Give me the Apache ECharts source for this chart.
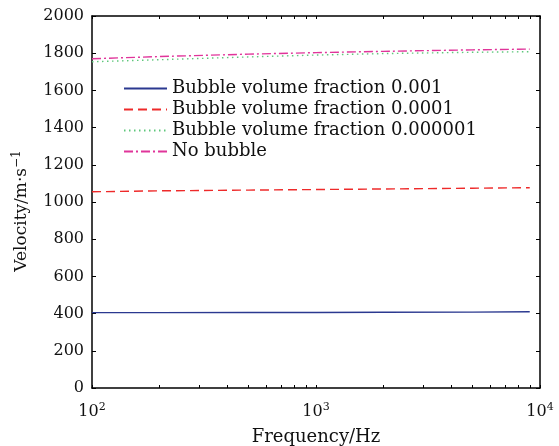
<!DOCTYPE html>
<html><head><meta charset="utf-8">
<script src="https://cdn.jsdelivr.net/npm/echarts@6/dist/echarts.min.js"></script>
<style>html,body{margin:0;padding:0;background:#fff}#c{width:559px;height:446px}</style>
</head><body><div id="c"></div>
<script>
const frequencies = [100, 200, 500, 1000, 2000, 5000, 9000];
const fraction001 = [405, 405, 406, 406, 407, 408, 410];
const fraction0001 = [1055, 1060, 1064, 1067, 1070, 1074, 1077];
const fraction000001 = [1754, 1765, 1780, 1790, 1798, 1805, 1808];
const noBubble = [1770, 1782, 1795, 1803, 1810, 1818, 1822];
const seriesNames = ['Bubble volume fraction 0.001', 'Bubble volume fraction 0.0001', 'Bubble volume fraction 0.000001', 'No bubble'];
const xTickExponents = [2, 3, 4];
const yTicks = [0, 200, 400, 600, 800, 1000, 1200, 1400, 1600, 1800, 2000];

const FONT = 'DejaVu Serif';
const pairs = arr => frequencies.map((f, i) => [f, arr[i]]);
const logTicks = [];
for (let d = 2; d < 4; d++) for (let m = 1; m <= 9; m++) logTicks.push(+(d + Math.log10(m)).toFixed(6));
logTicks.push(4);

const AX = { show: true, lineStyle: { color: '#000', width: 1.5 } };
const tickAxis = (pos) => ({
  type: 'value', min: 2, max: 4, position: pos,
  axisLine: AX, axisLabel: { show: false }, splitLine: { show: false },
  axisTick: { show: true, inside: true, length: 3, customValues: logTicks, lineStyle: { color: '#000', width: 1 } }
});
const supStyle = { fontFamily: FONT, fontSize: 12, color: '#111', verticalAlign: 'top', padding: [0, 0, 9, 0] };

const chart = echarts.init(document.getElementById('c'));
chart.setOption({
  animation: false,
  grid: { left: 92, right: 19, top: 16, bottom: 58, outerBoundsMode: 'none', containLabel: false },
  legend: {
    orient: 'vertical', left: 123, top: 78, padding: 0, itemWidth: 43, itemHeight: 10, itemGap: 0,
    textStyle: { fontFamily: FONT, fontSize: 18, color: '#111', lineHeight: 21 },
    itemStyle: { opacity: 0 },
    data: seriesNames
  },
  xAxis: [
    {
      type: 'log', logBase: 10, min: 100, max: 10000, position: 'bottom',
      axisLine: { show: false }, axisTick: { show: false }, splitLine: { show: false },
      name: 'Frequency/Hz', nameLocation: 'middle', nameGap: 40,
      nameTextStyle: { fontFamily: FONT, fontSize: 18, color: '#111' },
      axisLabel: {
        margin: 14, fontFamily: FONT, fontSize: 16, color: '#111',
        formatter: v => '10{sup|' + Math.round(Math.log10(v)) + '}',
        rich: { sup: { fontFamily: FONT, fontSize: 11, color: '#111', verticalAlign: 'top', padding: [0, 0, 8, 0] } }
      }
    },
    tickAxis('bottom'),
    tickAxis('top')
  ],
  yAxis: [
    {
      type: 'value', min: 0, max: 2000, interval: 200, position: 'left',
      axisLine: AX, splitLine: { show: false },
      axisTick: { show: true, inside: true, length: 4, lineStyle: { color: '#000' } },
      axisLabel: { fontFamily: FONT, fontSize: 16, color: '#111', margin: 8, formatter: v => String(v) },
      name: 'Velocity/m·s{sup|−1}', nameLocation: 'middle', nameGap: 60,
      nameTextStyle: { fontFamily: FONT, fontSize: 17, color: '#111', padding: [0, 18, 0, 0],
        rich: { sup: supStyle } }
    },
    {
      type: 'value', min: 0, max: 2000, interval: 200, position: 'right',
      axisLine: AX, splitLine: { show: false }, axisLabel: { show: false },
      axisTick: { show: true, inside: true, length: 4, lineStyle: { color: '#000' } }
    }
  ],
  series: [
    { name: seriesNames[0], type: 'line', showSymbol: false, symbol: 'none', data: pairs(fraction001),
      lineStyle: { color: '#2b3990', width: 1.4, type: 'solid' }, itemStyle: { color: '#2b3990' } },
    { name: seriesNames[1], type: 'line', showSymbol: false, symbol: 'none', data: pairs(fraction0001),
      lineStyle: { color: '#ee2a2a', width: 1.4, type: [9, 5] }, itemStyle: { color: '#ee2a2a' } },
    { name: seriesNames[2], type: 'line', showSymbol: false, symbol: 'none', data: pairs(fraction000001),
      lineStyle: { color: '#5fc77c', width: 1.4, type: [1.5, 3.5] }, itemStyle: { color: '#5fc77c' } },
    { name: seriesNames[3], type: 'line', showSymbol: false, symbol: 'none', data: pairs(noBubble),
      lineStyle: { color: '#e0359a', width: 1.4, type: [9, 3, 2, 3] }, itemStyle: { color: '#e0359a' } }
  ]
});
</script></body></html>
